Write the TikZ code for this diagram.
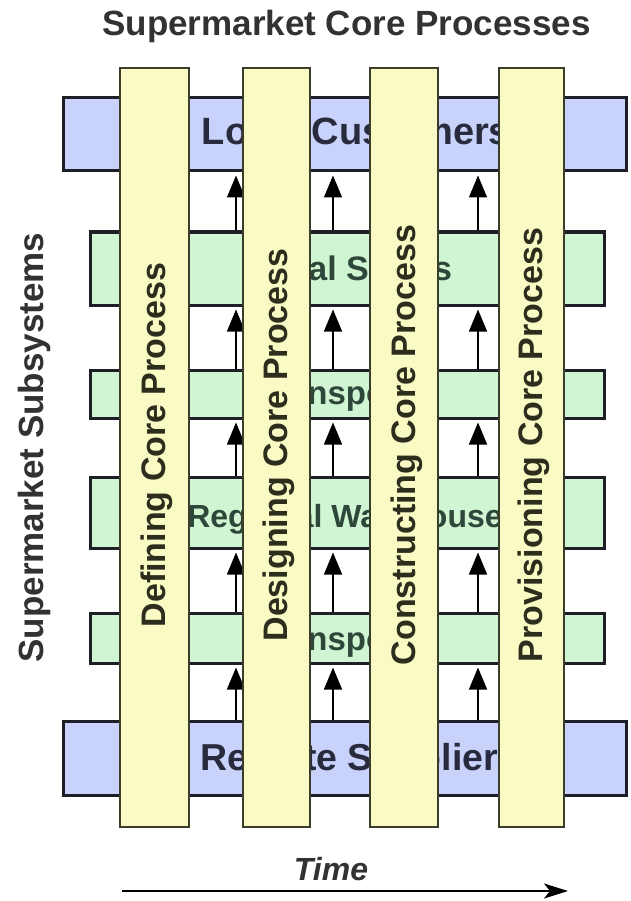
\documentclass[tikz,border=0pt]{standalone}
\usepackage{fontspec}
\setmainfont{Liberation Sans}
\usetikzlibrary{arrows.meta}
\definecolor{colfill}{RGB}{250,250,196}
\definecolor{colline}{RGB}{60,60,42}
\definecolor{bluefill}{RGB}{200,210,250}
\definecolor{greenfill}{RGB}{208,245,210}
\definecolor{boxline}{RGB}{30,30,38}
\definecolor{bluetext}{RGB}{40,42,62}
\definecolor{greentext}{RGB}{45,72,58}
\definecolor{titletext}{RGB}{50,50,50}
\definecolor{coltext}{RGB}{45,45,30}
\tikzset{
  sysbox/.style={draw=boxline, line width=3pt, inner sep=0pt},
  bluebox/.style={sysbox, fill=bluefill},
  greenbox/.style={sysbox, fill=greenfill},
  procbar/.style={draw=colline, line width=2pt, fill=colfill, inner sep=0pt},
  fs/.style={font=\bfseries\fontsize{#1}{#1}\selectfont},
  boxlabel/.style={anchor=base, inner sep=0pt},
  collabel/.style={anchor=base, rotate=90, inner sep=0pt, text=coltext, fs=34},
  uparrow/.style={line width=1.4pt, -{Triangle[length=22pt,width=18pt]}, shorten >=3pt}
}
\begin{document}
\begin{tikzpicture}[x=1pt,y=-1pt]
\useasboundingbox[fill=white] (0,0) rectangle (630,901);
% title
\node[boxlabel, fs=35, text=titletext] (title) at (346.5,36) {Supermarket Core Processes};
% side label
\node[anchor=base, rotate=90, inner sep=0pt, fs=35, text=titletext] (sub) at (43,447.5) {Supermarket Subsystems};
% subsystem boxes
\node[bluebox, minimum width=563pt, minimum height=73pt] (lc) at (344.5,134.5) {};
\node[greenbox, minimum width=514pt, minimum height=73pt] (rs) at (347,268.5) {};
\node[greenbox, minimum width=514pt, minimum height=48pt] (t1) at (347,394) {};
\node[greenbox, minimum width=514pt, minimum height=71pt] (rw) at (347,512.5) {};
\node[greenbox, minimum width=514pt, minimum height=50pt] (t2) at (347,638) {};
\node[bluebox, minimum width=563pt, minimum height=74pt] (su) at (344.5,758) {};
% box labels
\node[boxlabel, fs=38, text=bluetext] (lcl) at (356,145) {Local Customers};
\node[boxlabel, fs=34, text=greentext] (rsl) at (350,280) {Local Stores};
\node[boxlabel, fs=33, text=greentext] (t1l) at (334,404) {Transport};
\node[boxlabel, fs=32, text=greentext] (rwl) at (345,527) {Regional Warehouse};
\node[boxlabel, fs=33, text=greentext] (t2l) at (334,650) {Transport};
\node[boxlabel, fs=37.5, text=bluetext] (sul) at (359.5,770) {Remote Suppliers};
% arrow columns
\coordinate (a1) at (236,0);
\coordinate (a2) at (333,0);
\coordinate (a3) at (478,0);
\foreach \lo/\hi in {rs/lc, t1/rs, rw/t1, t2/rw, su/t2}{
  \foreach \a in {a1,a2,a3}{
    \draw[uparrow] (\lo.north -| \a) -- (\hi.south -| \a);
  }
}
% process bars
\node[procbar, minimum width=69pt, minimum height=759pt] (p1) at (154.5,447.5) {};
\node[procbar, minimum width=67pt, minimum height=759pt] (p2) at (276.5,447.5) {};
\node[procbar, minimum width=68pt, minimum height=759pt] (p3) at (404,447.5) {};
\node[procbar, minimum width=65pt, minimum height=759pt] (p4) at (531.5,447.5) {};
\node[collabel] (p1l) at (165,445) {Defining Core Process};
\node[collabel] (p2l) at (287,445) {Designing Core Process};
\node[collabel] (p3l) at (415,445) {Constructing Core Process};
\node[collabel] (p4l) at (542,445) {Provisioning Core Process};
% time
\node[boxlabel, font=\bfseries\itshape\fontsize{32}{32}\selectfont, text=titletext] (time) at (331,880) {Time};
\coordinate (t0) at (122,891);
\coordinate (t9) at (568,891);
\draw[line width=2pt, -{Stealth[length=24pt,width=15pt,inset=6pt]}] (t0) -- (t9);
\end{tikzpicture}
\end{document}
